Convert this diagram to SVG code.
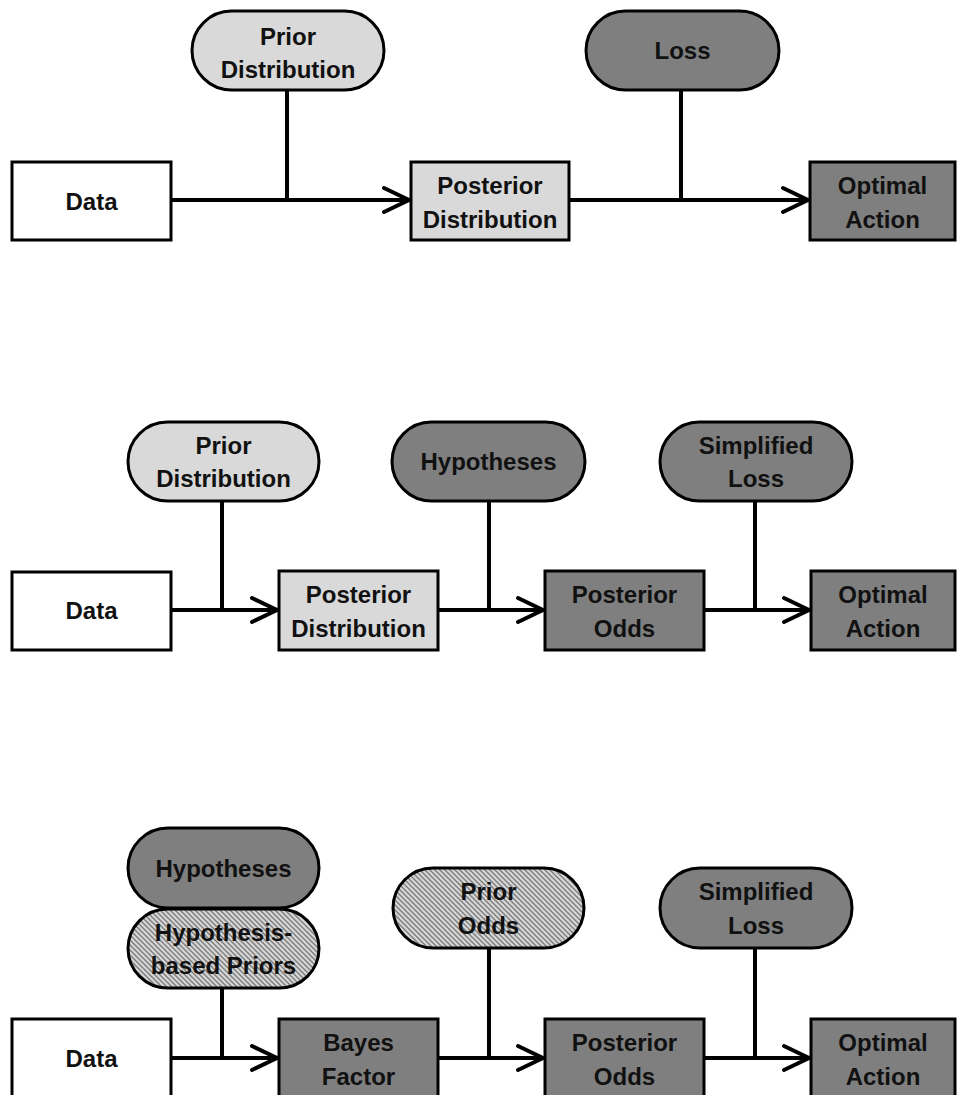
<svg xmlns="http://www.w3.org/2000/svg" width="958" height="1095" viewBox="0 0 958 1095">
<defs>
<pattern id="hatch" patternUnits="userSpaceOnUse" width="5" height="5">
<rect width="5" height="5" fill="#d6d6d6"/>
<path d="M0,0 L5,5 M-1,4 L1,6 M4,-1 L6,1" stroke="#7a7a7a" stroke-width="1.3"/>
</pattern>
<marker id="arr" markerUnits="userSpaceOnUse" markerWidth="34" markerHeight="34" refX="28" refY="15" orient="auto" viewBox="0 0 34 30">
<path d="M3,3 L28,15 L3,27" fill="none" stroke="#000" stroke-width="4" stroke-linecap="round" stroke-linejoin="miter"/>
</marker>
<style>
.n{stroke:#000;stroke-width:3}
.w{fill:#fff}
.l{fill:#d9d9d9}
.d{fill:#7f7f7f}
.h{fill:url(#hatch)}
.t{font-family:"Liberation Sans",Arial,sans-serif;font-weight:bold;font-size:24px;text-anchor:middle;fill:#111}
.c{stroke:#000;stroke-width:4;fill:none}
</style>
</defs>
<rect width="958" height="1095" fill="#fff"/>
<g id="connectors">
<!-- section 1 -->
<path class="c" d="M171,200 H409" marker-end="url(#arr)"/>
<path class="c" d="M287,90 V200"/>
<path class="c" d="M569,200 H808" marker-end="url(#arr)"/>
<path class="c" d="M681,90 V200"/>
<!-- section 2 -->
<path class="c" d="M171,610 H277" marker-end="url(#arr)"/>
<path class="c" d="M222,501 V610"/>
<path class="c" d="M438,610 H543" marker-end="url(#arr)"/>
<path class="c" d="M489,501 V610"/>
<path class="c" d="M704,610 H809" marker-end="url(#arr)"/>
<path class="c" d="M755,501 V610"/>
<!-- section 3 -->
<path class="c" d="M171,1058 H277" marker-end="url(#arr)"/>
<path class="c" d="M222,988 V1058"/>
<path class="c" d="M438,1058 H543" marker-end="url(#arr)"/>
<path class="c" d="M489,948 V1058"/>
<path class="c" d="M704,1058 H809" marker-end="url(#arr)"/>
<path class="c" d="M755,948 V1058"/>
</g>
<!-- section 1 -->
<g id="s1-data"><rect class="n w" x="12" y="162" width="159" height="78"/><text class="t" x="91.5" y="209.5">Data</text></g>
<g id="s1-prior"><rect class="n l" x="192" y="11" width="192" height="79" rx="39.5"/><text class="t" x="288" y="45">Prior</text><text class="t" x="288" y="78">Distribution</text></g>
<g id="s1-posterior"><rect class="n l" x="411" y="162" width="158" height="78"/><text class="t" x="490" y="194">Posterior</text><text class="t" x="490" y="228">Distribution</text></g>
<g id="s1-loss"><rect class="n d" x="586" y="11" width="193" height="79" rx="39.5"/><text class="t" x="682.5" y="59">Loss</text></g>
<g id="s1-action"><rect class="n d" x="810" y="162" width="145" height="78"/><text class="t" x="882.5" y="194">Optimal</text><text class="t" x="882.5" y="228">Action</text></g>
<!-- section 2 -->
<g id="s2-data"><rect class="n w" x="12" y="572" width="159" height="78"/><text class="t" x="91.5" y="619">Data</text></g>
<g id="s2-prior"><rect class="n l" x="128" y="422" width="191" height="79" rx="39.5"/><text class="t" x="223.5" y="454">Prior</text><text class="t" x="223.5" y="487">Distribution</text></g>
<g id="s2-posterior"><rect class="n l" x="279" y="571" width="159" height="79"/><text class="t" x="358.5" y="603">Posterior</text><text class="t" x="358.5" y="637">Distribution</text></g>
<g id="s2-hyp"><rect class="n d" x="392" y="422" width="193" height="79" rx="39.5"/><text class="t" x="488.5" y="470">Hypotheses</text></g>
<g id="s2-postodds"><rect class="n d" x="545" y="571" width="159" height="79"/><text class="t" x="624.5" y="603">Posterior</text><text class="t" x="624.5" y="637">Odds</text></g>
<g id="s2-loss"><rect class="n d" x="660" y="422" width="192" height="79" rx="39.5"/><text class="t" x="756" y="454">Simplified</text><text class="t" x="756" y="487">Loss</text></g>
<g id="s2-action"><rect class="n d" x="811" y="571" width="144" height="79"/><text class="t" x="883" y="603">Optimal</text><text class="t" x="883" y="637">Action</text></g>
<!-- section 3 -->
<g id="s3-data"><rect class="n w" x="12" y="1019" width="159" height="80"/><text class="t" x="91.5" y="1067">Data</text></g>
<g id="s3-hyp"><rect class="n d" x="128" y="828" width="191" height="80" rx="40"/><text class="t" x="223.5" y="877">Hypotheses</text></g>
<g id="s3-hbp"><rect class="n h" x="128" y="909" width="191" height="79" rx="39.5"/><text class="t" x="223.5" y="941">Hypothesis-</text><text class="t" x="223.5" y="974">based Priors</text></g>
<g id="s3-bf"><rect class="n d" x="279" y="1019" width="159" height="80"/><text class="t" x="358.5" y="1051">Bayes</text><text class="t" x="358.5" y="1085">Factor</text></g>
<g id="s3-priorodds"><rect class="n h" x="393" y="868" width="191" height="80" rx="40"/><text class="t" x="488.5" y="900">Prior</text><text class="t" x="488.5" y="934">Odds</text></g>
<g id="s3-postodds"><rect class="n d" x="545" y="1019" width="159" height="80"/><text class="t" x="624.5" y="1051">Posterior</text><text class="t" x="624.5" y="1085">Odds</text></g>
<g id="s3-loss"><rect class="n d" x="660" y="868" width="192" height="80" rx="40"/><text class="t" x="756" y="900">Simplified</text><text class="t" x="756" y="934">Loss</text></g>
<g id="s3-action"><rect class="n d" x="811" y="1019" width="144" height="80"/><text class="t" x="883" y="1051">Optimal</text><text class="t" x="883" y="1085">Action</text></g>
</svg>
